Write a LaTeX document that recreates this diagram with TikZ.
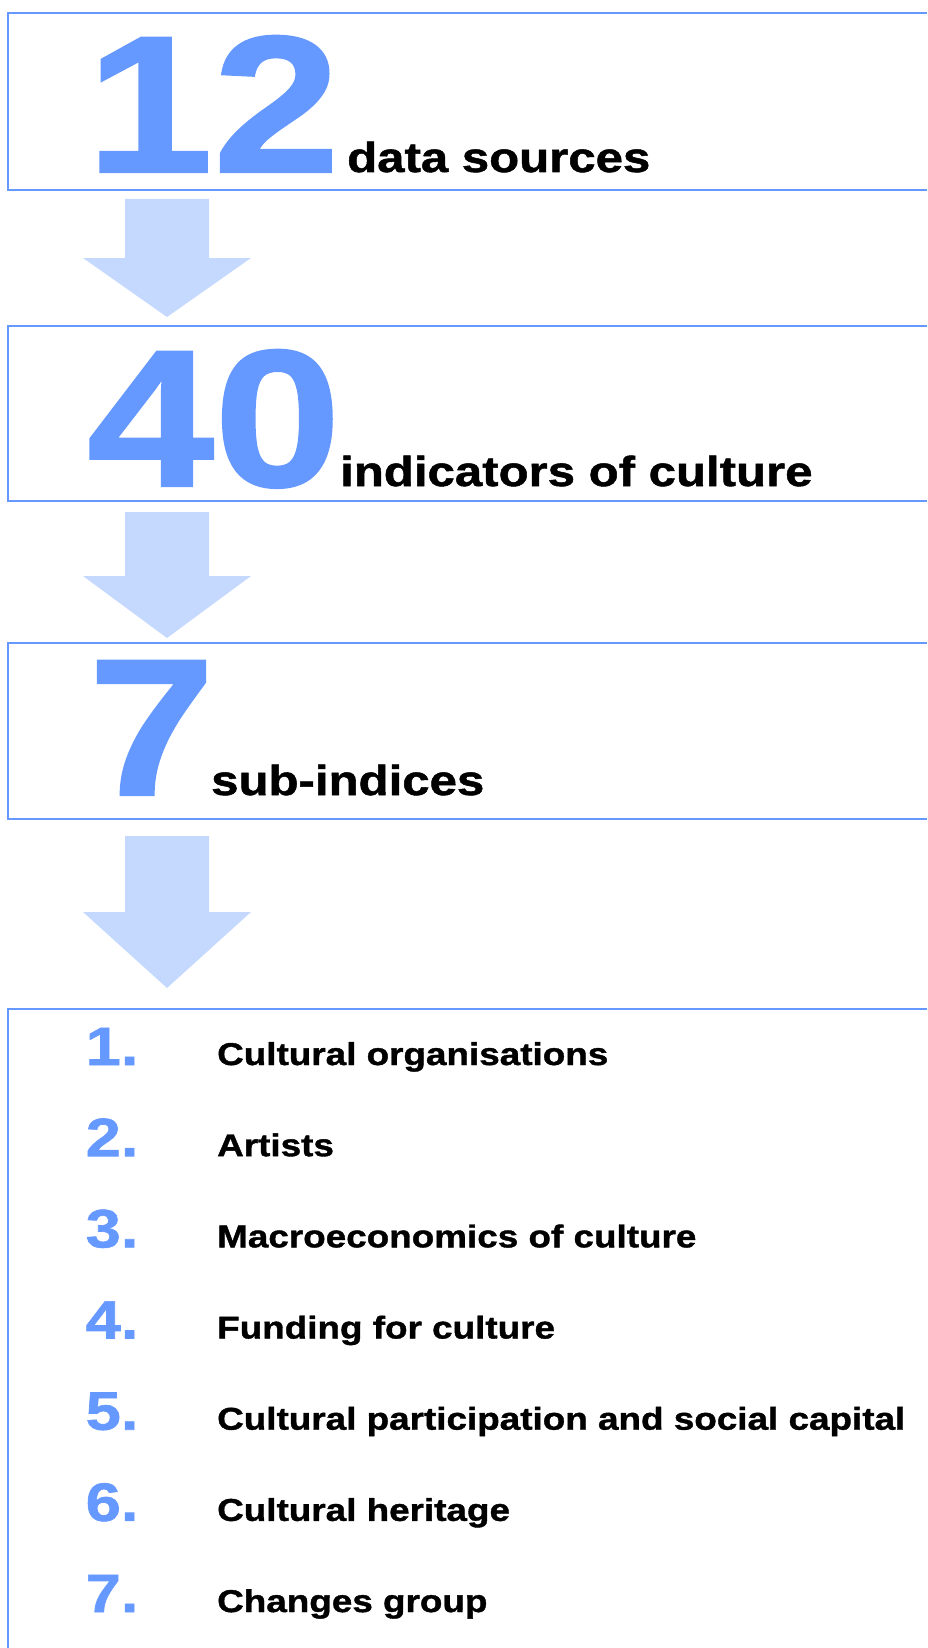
\documentclass[tikz,border=0pt]{standalone}
\usepackage{fontspec}
\newfontfamily\heavy{Liberation Sans Bold}[FakeStretch=1.17,FakeBold=1.2]
\definecolor{cblue}{RGB}{102,153,255}
\definecolor{clight}{RGB}{197,217,255}
\begin{document}
\begin{tikzpicture}[x=1pt,y=-1pt,
  big/.style={inner sep=0pt, anchor=base west, text=cblue, font=\heavy\fontsize{195}{195}\selectfont},
  lbl/.style={inner sep=0pt, anchor=base west, text=black, font=\heavy\fontsize{42}{42}\selectfont},
  num/.style={inner sep=0pt, anchor=base west, text=cblue, font=\heavy\fontsize{54}{54}\selectfont},
  item/.style={inner sep=0pt, anchor=base west, text=black, font=\heavy\fontsize{31.5}{31.5}\selectfont},
  frame/.style={draw=cblue, line width=2pt},
  barrow/.style={fill=clight, draw=none}]
\useasboundingbox (0,0) rectangle (927,1648);
% boxes (open on the right)
\draw[frame] (927,13) -- (8,13) -- (8,190) -- (927,190);
\draw[frame] (927,326) -- (8,326) -- (8,501) -- (927,501);
\draw[frame] (927,643) -- (8,643) -- (8,819) -- (927,819);
\draw[frame] (927,1009) -- (8,1009) -- (8,1648);
% block arrows
\newcommand{\blockarrow}[3]{%
  \fill[barrow] (125,#1) -- (209,#1) -- (209,#2) -- (251,#2) -- (167,#3) -- (83,#2) -- (125,#2) -- cycle;}
\blockarrow{199}{258}{317}
\blockarrow{512}{576}{638}
\blockarrow{836}{912}{988}
% headline numbers and labels
\node[big] (n12) at (86,172) {12};
\node[lbl] (t12) at (347,172) {data sources};
\node[big] (n40) at (87,486) {40};
\node[lbl] (t40) at (340,486) {indicators of culture};
\node[big] (n7) at (88,795) {7};
\node[lbl] (t7) at (211,795) {sub-indices};
% list
\foreach \i/\t in {1/Cultural organisations,2/Artists,3/Macroeconomics of culture,4/Funding for culture,5/Cultural participation and social capital,6/Cultural heritage,7/Changes group}{
  \node[num] (num\i) at (85.5,{1065+91.17*(\i-1)}) {\i.};
  \node[item] (item\i) at (217,{1065+91.17*(\i-1)}) {\t};
}
\end{tikzpicture}
\end{document}
